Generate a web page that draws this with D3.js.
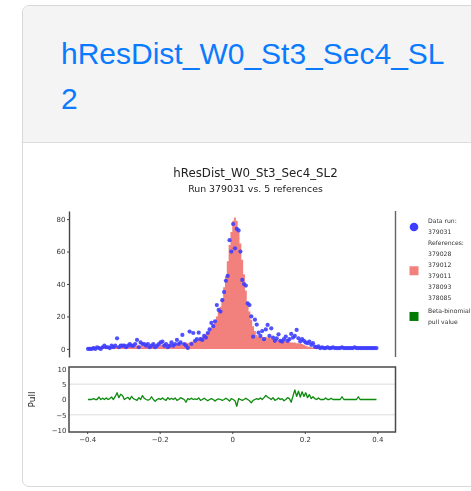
<!DOCTYPE html>
<html>
<head>
<meta charset="utf-8">
<script src="https://cdn.jsdelivr.net/npm/d3@7"></script>
<style>
  html, body { margin: 0; padding: 0; width: 471px; height: 491px; overflow: hidden; background: #fff; }
  .card { position: absolute; left: 22px; top: 5px; width: 520px; height: 480px;
          border: 1px solid #d8d8d8; border-radius: 7px; overflow: hidden; background: #fff; }
  .card-header { height: 136px; background: #f4f4f4; border-bottom: 1px solid #dcdcdc; }
  .card-title { position: absolute; left: 38px; top: 25px; margin: 0;
                font: 400 30px "Liberation Sans", Arial, Helvetica, sans-serif;
                line-height: 45px; color: #0b7bfe; }
  #chart { position: absolute; left: 0; top: 0; }
</style>
</head>
<body>
<div class="card">
  <div class="card-header"></div>
  <div class="card-title">hResDist_W0_St3_Sec4_SL<br>2</div>
</div>
<svg id="chart" width="471" height="491"></svg>
<script>
// Histogram binning
const binLow = -0.4;
const binWidth = 0.005;

// Reference distribution (sum of 5 reference runs, normalised)
const refCounts = [
  1, 1, 1, 1.5, 1, 1, 1.5, 1, 1.5, 1.5,
  1.5, 1, 1.5, 1.5, 2, 1.5, 1.5, 2, 1.5, 2,
  2, 1.5, 2, 2, 2, 1.5, 2, 2, 2.5, 2,
  2, 2.5, 2, 2, 2.5, 2, 2.5, 2.5, 2, 2.5,
  2.5, 2.5, 3, 2.5, 3, 2.5, 3, 3, 3, 3,
  3.5, 3, 3.5, 3.5, 4, 3.5, 4, 4.5, 4.5, 5,
  5.5, 6, 7, 7.5, 8, 9, 10, 11, 13, 15,
  17, 20, 23, 26, 31, 38, 45, 54, 64, 72,
  79, 81, 79, 72, 65, 55, 46, 36, 29, 23,
  18, 14, 11, 8.5, 7.5, 7.5, 7.5, 7, 7.5, 7,
  7, 6.5, 6.5, 6, 6, 5.5, 5.5, 5.5, 5, 5,
  4.5, 4.5, 4, 4, 4, 3.5, 3.5, 3, 3, 2.5,
  2, 1.5, 1.2, 1, 0.8, 0.6, 0.5, 0.5, 0.4, 0.4,
  0.4, 0.3, 0.3, 0.3, 0.3, 0.3, 0.2, 0.2, 0.2, 0.2,
  0.2, 0.2, 0.2, 0.2, 0.2, 0.1, 0.1, 0.1, 0.1, 0.1,
  0.1, 0.1, 0.1, 0.1, 0.1, 0.1, 0.1, 0.1, 0.1, 0.1
];

// Data run 379031
const dataCounts = [
  0, 0, 0, 0.5, 0, 1, 0.5, 0, 1, 2,
  1, 1, 0.5, 2, 1, 2, 6.5, 1, 2, 2,
  2, 1, 2, 3, 2, 2, 3, 5.5, 1, 4,
  3, 3, 2, 3, 1, 2, 3, 1, 2, 3,
  4, 4.5, 2, 3, 1, 2, 4, 2, 3, 5.5,
  3, 4, 8.6, 3, 2, 0.6, 10.7, 3, 9.8, 5,
  6, 10, 6, 5.5, 8, 7, 9.8, 12, 16, 14,
  17, 27, 24, 23, 30, 35, 42, 45, 67, 60,
  77, 62, 74, 73, 60, 42.5, 40, 39, 28, 27,
  20, 7.5, 18, 15, 10, 8, 11, 6, 12, 14.8,
  8, 12.7, 7, 5, 6.5, 9, 5, 4.5, 6, 7.6,
  5, 6, 9.2, 7, 8, 11.7, 6.5, 4.5, 6, 5,
  4, 3.5, 4.5, 2.5, 3.5, 1.4, 1, 1.5, 0.5, 1,
  0.5, 0.5, 1, 0.5, 0.5, 1, 0.5, 0.5, 0.5, 0.5,
  1, 0.5, 0.5, 0.5, 0.5, 0.5, 0.5, 1, 0.5, 0.5,
  0.5, 0.5, 0.5, 0.5, 0.5, 0.5, 0.5, 0.5, 0.5, 0.5
];

// Beta-binomial pull per bin
const pullValues = [
  0, 0, 0, 0.3, 0, 0, 0.8, 0, 0.4, 0,
  0.5, 0, 0.3, 0.8, 0, 1.0, 2.2, 0.6, 1.7, 1.3,
  0, 0.4, 0.7, 0, 1.0, 0.3, 0, -0.3, 0.6, 0,
  1.3, 0.4, 0, -0.2, 0, 0.9, 0, -0.6, 0, 0.3,
  0, 0.5, 0, -0.3, 0.6, 0, 0.4, 0, 0.5, -0.3,
  0, 0.6, 0.3, 0, -0.9, 0.3, 0, 0.4, 0, 0.2,
  0, 0.5, -0.3, 0, 0.4, 0, -0.4, 0, 0.3, 0,
  -0.5, 0, 0.2, 0, -0.3, 0, 0.4, 0, -0.5, 0.3,
  0, -0.4, -2.2, 0.3, 0, -0.3, 0, 0.4, 0, -0.4,
  -1.1, -0.3, 0, 0.3, 0, 0.5, 0, 0.6, 1.3, 0.8,
  0.4, 0, 0.6, -0.3, 0, 0.5, 0, 0.3, -0.4, 0,
  0.6, 0.3, -0.9, 1.2, 3.1, 1.0, 2.7, 0.8, 2.5, 1.0,
  2.2, 0.6, 1.6, 0.3, 0.9, 0.3, 0, 0.5, 0, 0,
  0, 0.5, 0, 0, 0.4, 0, 0, 0, 0, 0,
  0.9, 0, 0, 0, 0, 0, 0, 0, 0, 0.9,
  0, 0, 0, 0, 0, 0, 0, 0, 0, 0
];

const xTicks = [-0.4, -0.2, 0, 0.2, 0.4];
const mainYTicks = [0, 20, 40, 60, 80];
const pullYTicks = [-10, -5, 0, 5, 10];

const chartTitle = "hResDist_W0_St3_Sec4_SL2";
const chartSubtitle = "Run 379031 vs. 5 references";
const pullLabel = "Pull";
const legendData = ["Data run:", "379031"];
const legendRefs = ["References:", "379028", "379012", "379011", "378093", "378085"];
const legendPull = ["Beta-binomial", "pull value"];

const colData = "#3d3dff";
const colRef = "#f2817d";
const colPull = "#0a8a0a";
const font = "'DejaVu Sans', Verdana, sans-serif";

const svg = d3.select("#chart");
// the plot image is slightly soft
const defs = svg.append("defs");
defs.append("filter").attr("id", "soft").attr("x", "-5%").attr("y", "-5%").attr("width", "110%").attr("height", "110%")
  .append("feGaussianBlur").attr("stdDeviation", 0.3);
const g = svg.append("g").attr("filter", "url(#soft)");

// Scales
const x = d3.scaleLinear().domain([-0.45, 0.45]).range([69, 395.5]);
const yMain = d3.scaleLinear().domain([-5, 85]).range([357, 211]);
const yPull = d3.scaleLinear().domain([-10.6, 10.6]).range([432, 367]);

const n = refCounts.length;
const centers = d3.range(n).map(i => binLow + (i + 0.5) * binWidth);
const edges = d3.range(n + 1).map(i => binLow + i * binWidth);

// Titles
g.append("text").attr("x", 255.5).attr("y", 177)
  .attr("text-anchor", "middle").attr("font-family", font).attr("font-size", 11.8)
  .attr("fill", "#222").text(chartTitle);
g.append("text").attr("x", 255.5).attr("y", 191.5)
  .attr("text-anchor", "middle").attr("font-family", font).attr("font-size", 9.4)
  .attr("fill", "#222").text(chartSubtitle);

// Reference histogram (filled step)
const refArea = d3.area()
  .curve(d3.curveStepAfter)
  .x(d => x(d[0]))
  .y0(yMain(0))
  .y1(d => yMain(d[1]));
const refPts = edges.map((e, i) => [e, refCounts[Math.min(i, n - 1)]]);
g.append("path").datum(refPts).attr("d", refArea).attr("fill", colRef);

// Data points
g.append("g").selectAll("circle").data(dataCounts).join("circle")
  .attr("cx", (d, i) => x(centers[i]))
  .attr("cy", d => yMain(d))
  .attr("r", 2.1)
  .attr("fill", colData)
  .attr("fill-opacity", 0.9);

// Main axes: left axis + right spine
const yAxisMain = d3.axisLeft(yMain).tickValues(mainYTicks).tickSize(2).tickSizeOuter(0).tickPadding(1.5);
const ya = g.append("g").attr("transform", "translate(69,0)").call(yAxisMain);
ya.select(".domain").attr("stroke", "#444").attr("stroke-width", 1.4);
ya.selectAll(".tick line").attr("stroke", "#444");
ya.selectAll("text").attr("font-family", font).attr("font-size", 7).attr("fill", "#333");
g.append("line").attr("x1", x.range()[1]).attr("x2", x.range()[1])
  .attr("y1", yMain.range()[1]).attr("y2", yMain.range()[0])
  .attr("stroke", "#666").attr("stroke-width", 1.4);

// Pull panel
g.append("g").selectAll("line.grid").data([-5, 5]).join("line")
  .attr("x1", x.range()[0]).attr("x2", x.range()[1])
  .attr("y1", d => yPull(d)).attr("y2", d => yPull(d))
  .attr("stroke", "#dcdcdc").attr("stroke-width", 1);

const pullLine = d3.line().x((d, i) => x(centers[i])).y(d => yPull(d));
g.append("path").datum(pullValues).attr("d", pullLine)
  .attr("fill", "none").attr("stroke", colPull).attr("stroke-width", 1.3)
  .attr("stroke-linejoin", "round");

g.append("rect").attr("x", x.range()[0]).attr("y", yPull.range()[1])
  .attr("width", x.range()[1] - x.range()[0]).attr("height", yPull.range()[0] - yPull.range()[1])
  .attr("fill", "none").attr("stroke", "#4a4a4a").attr("stroke-width", 1.5);

const yAxisPull = d3.axisLeft(yPull).tickValues(pullYTicks).tickSize(0).tickPadding(2.5).tickFormat(d3.format("d"));
const yp = g.append("g").attr("transform", `translate(${x.range()[0]},0)`).call(yAxisPull);
yp.select(".domain").remove();
yp.selectAll("text").attr("font-family", font).attr("font-size", 7).attr("fill", "#333");

const xAxis = d3.axisBottom(x).tickValues(xTicks).tickSize(2).tickPadding(3).tickFormat(d3.format("~g"));
const xa = g.append("g").attr("transform", `translate(0,${yPull.range()[0]})`).call(xAxis);
xa.select(".domain").remove();
xa.selectAll(".tick line").attr("stroke", "#444");
xa.selectAll("text").attr("font-family", font).attr("font-size", 7).attr("fill", "#333");

g.append("text").attr("transform", `translate(32,${yPull(0)}) rotate(-90)`)
  .attr("text-anchor", "middle").attr("dy", "0.35em")
  .attr("font-family", font).attr("font-size", 9).attr("fill", "#222").text(pullLabel);

// Legend
const lgX = 428, lineH = 10.9;
const groups = [
  { lines: legendData, top: 221, kind: "circle", color: colData },
  { lines: legendRefs, top: 243, kind: "rect", color: colRef },
  { lines: legendPull, top: 310.5, kind: "rect", color: "#007a00" }
];
groups.forEach(gr => {
  gr.lines.forEach((t, i) => {
    g.append("text").attr("x", lgX).attr("y", gr.top + i * lineH).attr("dy", "0.35em")
      .attr("font-family", font).attr("font-size", 6.1).attr("fill", "#333").text(t);
  });
  const cy = gr.top + (gr.lines.length - 1) * lineH / 2 + 0.5;
  if (gr.kind === "circle") {
    g.append("circle").attr("cx", 414).attr("cy", cy).attr("r", 4.3).attr("fill", gr.color);
  } else {
    g.append("rect").attr("x", 409.5).attr("y", cy - 4.5).attr("width", 9).attr("height", 9).attr("fill", gr.color);
  }
});
</script>
</body>
</html>
